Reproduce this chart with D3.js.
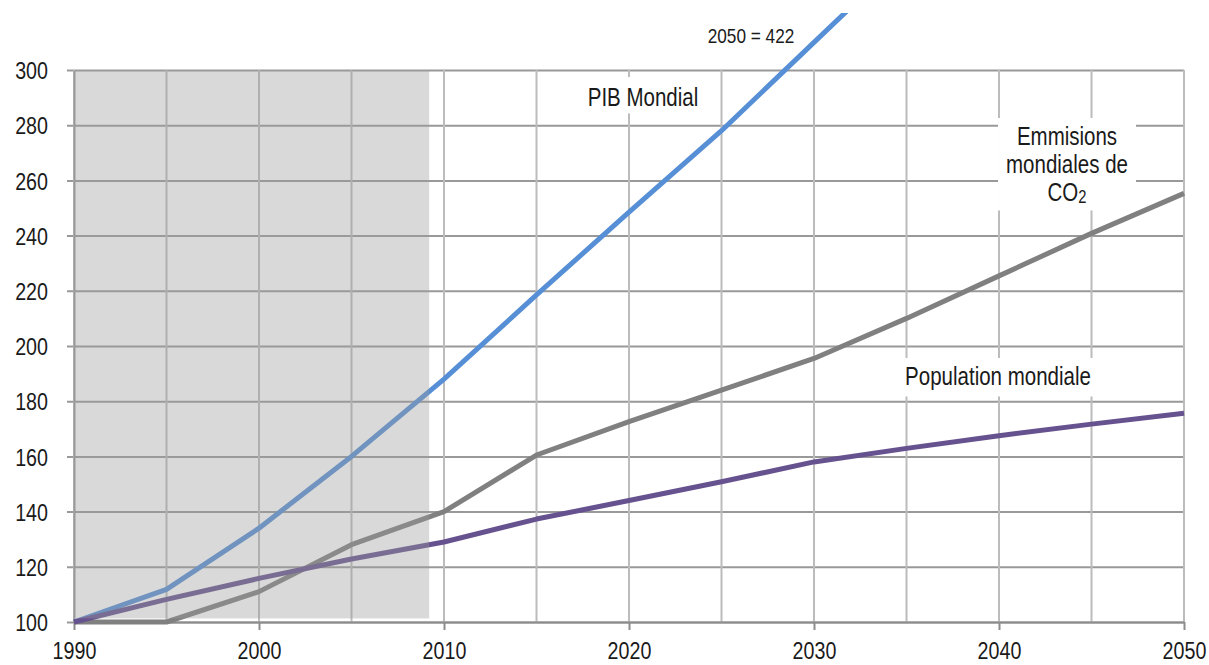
<!DOCTYPE html>
<html>
<head>
<meta charset="utf-8">
<script src="https://cdn.jsdelivr.net/npm/d3@7/dist/d3.min.js"></script>
<style>
  html, body { margin: 0; padding: 0; background: #fff; }
  svg { display: block; }
  text { font-family: "Liberation Sans", Arial, sans-serif; fill: #1a1a1a; }
</style>
</head>
<body>
<svg id="chart" width="1209" height="665"></svg>
<script>
// Index base 100 in 1990
const years = [1990, 1995, 2000, 2005, 2010, 2015, 2020, 2025, 2030, 2035, 2040, 2045, 2050];
const pibMondial = [100, 111.8, 134, 160, 188, 218.5, 248.5, 278, 310, 342, 370, 396, 422];
const emissionsCO2 = [100, 100, 111, 128, 140, 160.5, 172.6, 184, 195.5, 210, 225.4, 240.8, 255.3];
const populationMondiale = [100, 108.2, 115.8, 122.8, 129, 137.3, 144, 150.8, 158, 162.9, 167.5, 171.7, 175.6];

const yTicks = [100, 120, 140, 160, 180, 200, 220, 240, 260, 280, 300];
const xTicks = [1990, 2000, 2010, 2020, 2030, 2040, 2050];
const xGrid = years;
const historicEnd = 2009.2;

const series = [
  { name: "pib", values: pibMondial, color: "#568fd6" },
  { name: "co2", values: emissionsCO2, color: "#808080" },
  { name: "pop", values: populationMondiale, color: "#66528e" }
];

// Narrow text: regular sans squeezed horizontally
const NARROW = 0.82;

const W = 1209, H = 665;
const margin = { left: 74, right: 25, top: 70, bottom: 43 };
const svg = d3.select("#chart");

const x = d3.scaleLinear().domain([1990, 2050]).range([margin.left, W - margin.right]);
const y = d3.scaleLinear().domain([100, 300]).range([H - margin.bottom, margin.top]);

// Horizontal gridlines (with short tick stubs left of the axis)
svg.append("g")
  .attr("transform", `translate(${margin.left},0)`)
  .call(d3.axisLeft(y).tickValues(yTicks).tickSize(-(x(2050) - x(1990))).tickSizeOuter(0).tickFormat(""))
  .call(g => g.select(".domain").remove())
  .call(g => g.selectAll("line").attr("stroke", "#999").attr("stroke-width", 2).attr("x1", -7));

// Vertical gridlines every 5 years
svg.append("g")
  .selectAll("line")
  .data(xGrid)
  .join("line")
  .attr("x1", d => x(d)).attr("x2", d => x(d))
  .attr("y1", y(300)).attr("y2", y(100))
  .attr("stroke", "#bcbcbc").attr("stroke-width", 2);

// Axes
const xAxis = svg.append("g")
  .attr("transform", `translate(0,${y(100)})`)
  .call(d3.axisBottom(x).tickValues(xTicks).tickFormat(d3.format("d")).tickSize(8).tickSizeOuter(0));
xAxis.select(".domain").attr("stroke", "#8c8c8c").attr("stroke-width", 2);
xAxis.selectAll("line").attr("stroke", "#8c8c8c").attr("stroke-width", 2);
xAxis.selectAll("text")
  .attr("font-size", 24).attr("fill", "#1a1a1a")
  .attr("y", 37).attr("dy", 0)
  .attr("transform", `scale(${NARROW},1)`)
  .style("font-family", '"Liberation Sans", Arial, sans-serif');

const yAxis = svg.append("g")
  .attr("transform", `translate(${margin.left},0)`)
  .call(d3.axisLeft(y).tickValues(yTicks).tickSize(0));
yAxis.select(".domain").attr("stroke", "#999").attr("stroke-width", 2);
yAxis.selectAll("text")
  .attr("font-size", 24).attr("fill", "#1a1a1a")
  .attr("x", -26 / NARROW).attr("dy", "0.36em")
  .attr("transform", `scale(${NARROW},1)`)
  .style("font-family", '"Liberation Sans", Arial, sans-serif');

// Lines, clipped to the chart area
svg.append("clipPath").attr("id", "area-clip")
  .append("rect").attr("x", 0).attr("y", 13).attr("width", W).attr("height", H - 13);

const line = d3.line().x((d, i) => x(years[i])).y(d => y(d));
svg.append("g").attr("clip-path", "url(#area-clip)")
  .selectAll("path")
  .data(series)
  .join("path")
  .attr("d", d => line(d.values))
  .attr("fill", "none")
  .attr("stroke", d => d.color)
  .attr("stroke-width", 5)
  .attr("stroke-linejoin", "round");

// Historical period shading (translucent overlay)
svg.append("rect")
  .attr("x", x(1990) + 1)
  .attr("y", y(300))
  .attr("width", x(historicEnd) - x(1990) - 1)
  .attr("height", y(101.3) - y(300))
  .attr("fill", "#9b9b9b")
  .attr("opacity", 0.38);

// Series labels with white backgrounds
function label(lines, cx, baseline, size, lineH, pad) {
  const g = svg.append("g");
  const bg = g.append("rect").attr("fill", "#fff");
  const t = g.append("text")
    .attr("text-anchor", "middle")
    .attr("font-size", size)
    .attr("transform", `translate(${cx},0) scale(${NARROW},1)`);
  lines.forEach((ln, i) => {
    const ts = t.append("tspan").attr("x", 0).attr("y", baseline + i * lineH);
    ln.forEach(part => {
      const s = ts.append("tspan").text(part.text);
      if (part.sub) s.attr("font-size", size * 0.72).attr("dy", 2);
    });
  });
  if (pad) {
    const b = t.node().getBoundingClientRect();
    bg.attr("x", b.left - pad[3]).attr("y", b.top - pad[0])
      .attr("width", b.width + pad[1] + pad[3]).attr("height", b.height + pad[0] + pad[2]);
  }
  return g;
}

label([[{ text: "PIB Mondial" }]], 643, 106, 25, 0, [6, 5, 2, 5]);
label([[{ text: "Emmisions" }], [{ text: "mondiales de" }], [{ text: "CO" }, { text: "2", sub: true }]],
  1067, 145, 25, 28, [4, 8, 4, 8]);
label([[{ text: "Population mondiale" }]], 998, 385, 25, 0, [4, 4, 6, 4]);
label([[{ text: "2050 = 422" }]], 751, 43, 21, 0, null);
</script>
</body>
</html>
